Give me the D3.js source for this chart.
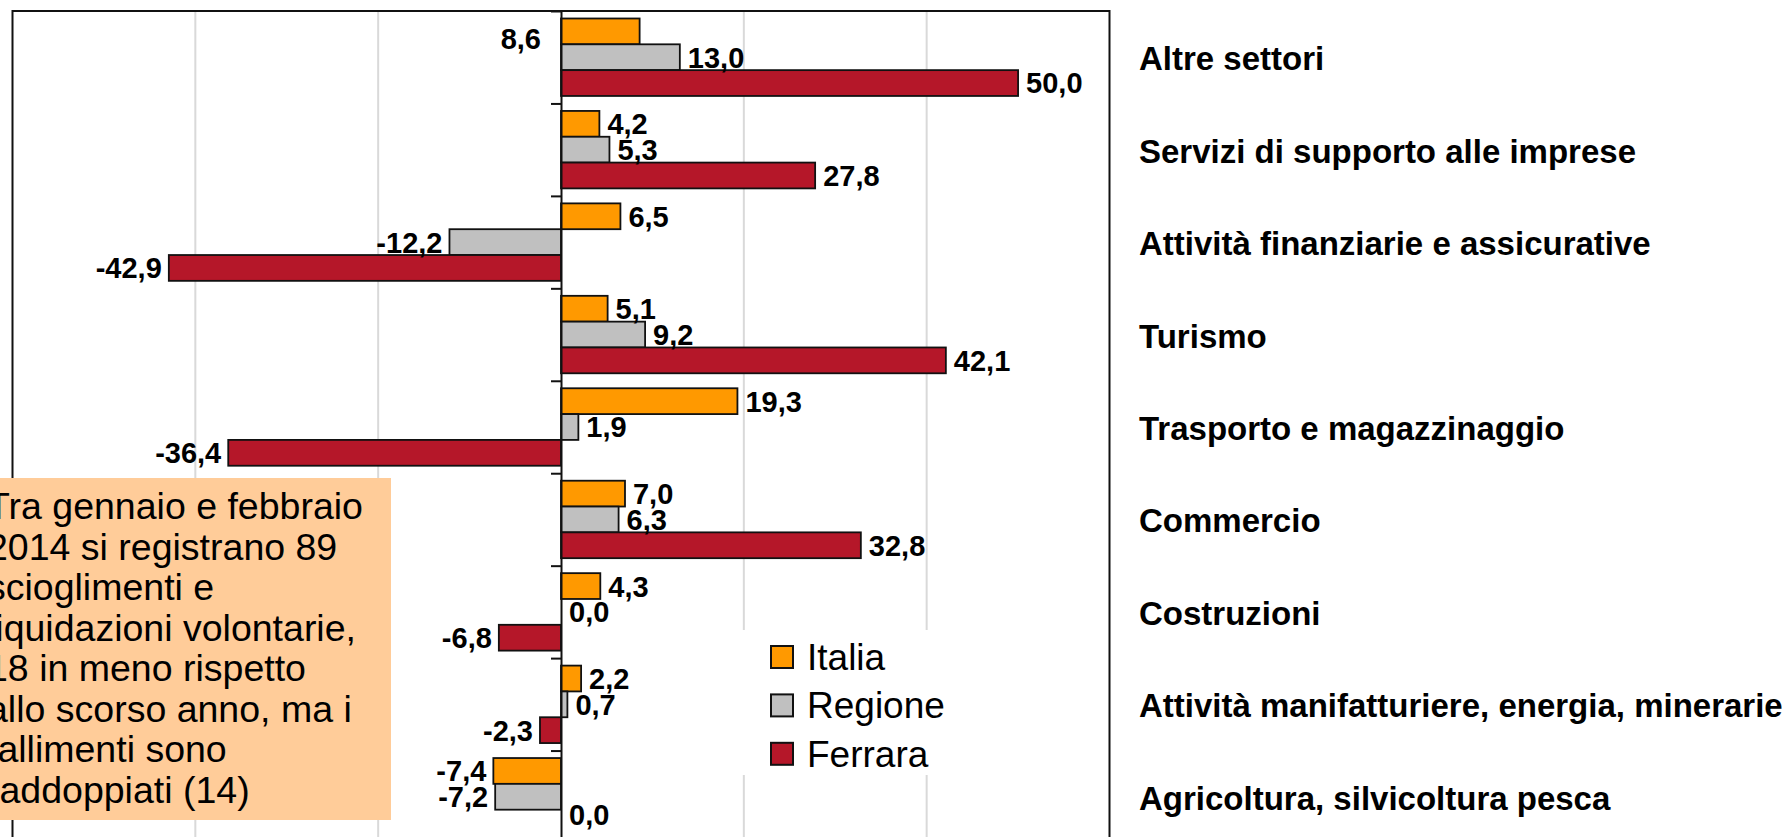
<!DOCTYPE html>
<html>
<head>
<meta charset="utf-8">
<script src="https://cdn.jsdelivr.net/npm/d3@7"></script>
<style>
  body { margin: 0; background: #fff; overflow: hidden; }
  text { font-family: "Liberation Sans", Arial, sans-serif; }
</style>
</head>
<body>
<div id="chart-area"></div>
<script>
// data (top to bottom)
const categories = [
  "Altre settori",
  "Servizi di supporto alle imprese",
  "Attività finanziarie e assicurative",
  "Turismo",
  "Trasporto e magazzinaggio",
  "Commercio",
  "Costruzioni",
  "Attività manifatturiere, energia, minerarie",
  "Agricoltura, silvicoltura pesca"
];
const series = ["Italia", "Regione", "Ferrara"];
const italia  = [8.6, 4.2, 6.5, 5.1, 19.3, 7.0, 4.3, 2.2, -7.4];
const regione = [13.0, 5.3, -12.2, 9.2, 1.9, 6.3, 0.0, 0.7, -7.2];
const ferrara = [50.0, 27.8, -42.9, 42.1, -36.4, 32.8, -6.8, -2.3, 0.0];
const xTicks = [-60, -40, -20, 0, 20, 40, 60];
const noteLines = [
  "Tra gennaio e febbraio",
  "2014 si registrano 89",
  "scioglimenti e",
  "liquidazioni volontarie,",
  "18 in meno rispetto",
  "allo scorso anno, ma i",
  "fallimenti sono",
  "raddoppiati (14)"
];

const colors = {Italia: "#ff9900", Regione: "#c0c0c0", Ferrara: "#b51729"};
const values = {Italia: italia, Regione: regione, Ferrara: ferrara};

let width = 1782, height = 837;
let plot = {left: 12.5, right: 1109.5, top: 11, bottom: 843};

let svg = d3.select("#chart-area")
  .append("svg")
  .attr("width", width)
  .attr("height", height);

let x = d3.scaleLinear()
  .domain([xTicks[0], xTicks[xTicks.length - 1]])
  .range([plot.left, plot.right]);

let y = d3.scaleBand()
  .domain(categories)
  .range([plot.top, plot.bottom]);

let yInner = d3.scaleBand()
  .domain(series)
  .range([0, y.bandwidth()])
  .paddingInner(0)
  .paddingOuter(0.29);

// gridlines
svg.append("g")
  .selectAll("line")
  .data(xTicks.filter(d => d !== 0 && Math.abs(d) !== 60))
  .enter()
  .append("line")
  .attr("x1", d => x(d)).attr("x2", d => x(d))
  .attr("y1", plot.top).attr("y2", plot.bottom)
  .attr("stroke", "#d9d9d9")
  .attr("stroke-width", 2);

// flat table for bars
let rows = [];
categories.forEach((c, i) => {
  series.forEach(s => rows.push({cat: c, ser: s, val: values[s][i]}));
});

let g = svg.append("g");
g.selectAll("rect")
  .data(rows)
  .enter()
  .append("rect")
  .attr("x", d => x(Math.min(0, d.val)))
  .attr("y", d => y(d.cat) + yInner(d.ser))
  .attr("width", d => Math.abs(x(d.val) - x(0)))
  .attr("height", yInner.bandwidth())
  .attr("fill", d => colors[d.ser])
  .attr("stroke", "#111")
  .attr("stroke-width", 1.8);

// category axis at zero, ticks between groups
let idx = d3.scaleLinear().domain([0, categories.length]).range([plot.top, plot.top + y.step() * categories.length]);
svg.append("g")
  .attr("transform", "translate(" + x(0) + ",0)")
  .call(d3.axisLeft(idx).tickValues(d3.range(categories.length + 1)).tickSize(10).tickSizeOuter(0).tickFormat(""))
  .call(a => a.selectAll("line,path").attr("stroke", "#111").attr("stroke-width", 2));

// value labels (two labels were moved by hand in the original)
let fmt = v => d3.format(".1f")(v).replace(".", ",").replace("\u2212", "-");
let moved = d => d.cat === "Altre settori" && d.ser === "Italia";
let raised = d => d.cat === "Agricoltura, silvicoltura pesca" && d.ser === "Ferrara";
svg.append("g")
  .selectAll("text")
  .data(rows)
  .enter()
  .append("text")
  .attr("x", d => {
    if (moved(d)) return x(0) - 20;
    return d.val < 0 ? x(d.val) - 7 : x(d.val) + 8;
  })
  .attr("y", d => {
    let c = y(d.cat) + yInner(d.ser) + yInner.bandwidth() / 2;
    if (moved(d)) c += 7;
    if (raised(d)) c -= 8;
    return c;
  })
  .attr("dy", "0.36em")
  .attr("text-anchor", d => (d.val < 0 || moved(d)) ? "end" : "start")
  .attr("font-size", "29px")
  .attr("font-weight", "bold")
  .attr("fill", "#000")
  .text(d => fmt(d.val));

// plot frame
svg.append("rect")
  .attr("x", plot.left).attr("y", plot.top)
  .attr("width", plot.right - plot.left)
  .attr("height", plot.bottom - plot.top)
  .attr("fill", "none")
  .attr("stroke", "#111")
  .attr("stroke-width", 2);

// legend
let legend = svg.append("g");
legend.append("rect")
  .attr("x", 736).attr("y", 630)
  .attr("width", 210).attr("height", 145)
  .attr("fill", "#fff");
series.forEach((s, i) => {
  legend.append("rect")
    .attr("x", 771).attr("y", 646 + i * 48.4)
    .attr("width", 22).attr("height", 22)
    .attr("fill", colors[s])
    .attr("stroke", "#111")
    .attr("stroke-width", 2);
  legend.append("text")
    .attr("x", 807).attr("y", 670 + i * 48.4)
    .attr("font-size", "37px")
    .text(s);
});

// category names on the right
svg.append("g")
  .selectAll("text")
  .data(categories)
  .enter()
  .append("text")
  .attr("x", 1139)
  .attr("y", d => y(d) + y.bandwidth() / 2 + 13)
  .attr("font-size", "33px")
  .attr("font-weight", "bold")
  .text(d => d);

// note box, its left edge runs off the slide
let note = svg.append("g");
note.append("rect")
  .attr("x", -2).attr("y", 478)
  .attr("width", 393).attr("height", 342)
  .attr("fill", "#ffcc99");
note.selectAll("text")
  .data(noteLines)
  .enter()
  .append("text")
  .attr("x", -13)
  .attr("y", (d, i) => 519 + i * 40.5)
  .attr("font-size", "37.5px")
  .text(d => d);
</script>
</body>
</html>
